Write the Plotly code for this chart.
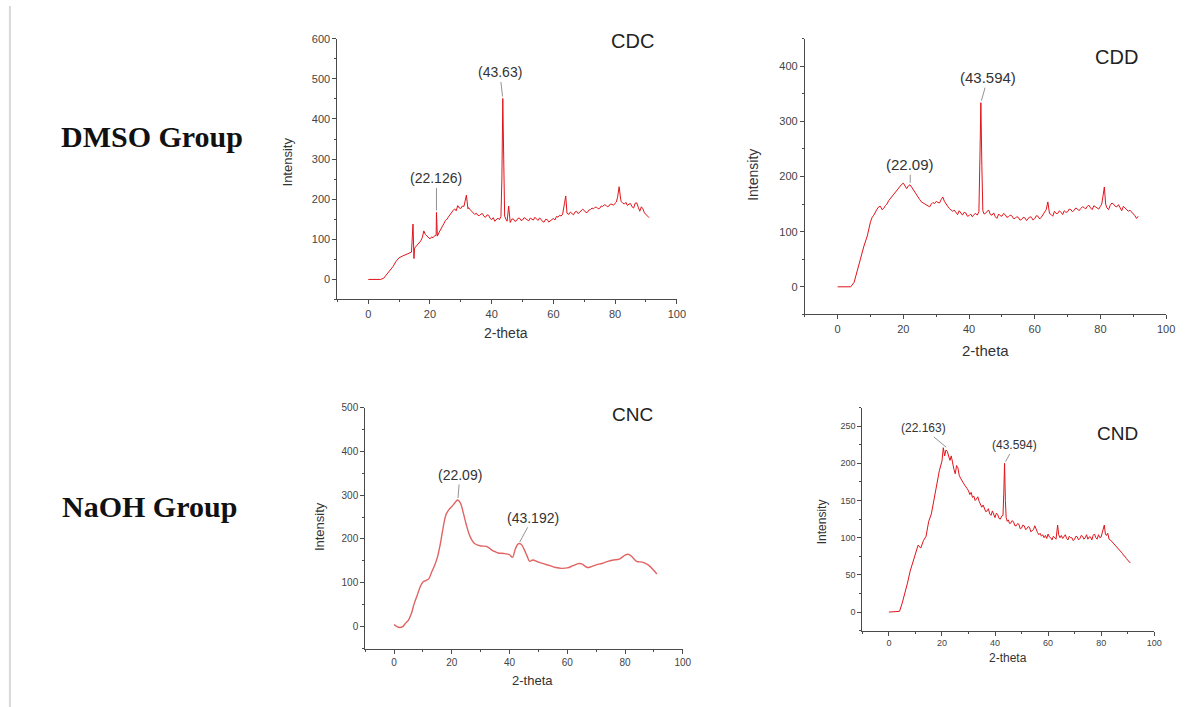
import plotly.graph_objects as go

W, H = 1186, 707

# ---------------- data ----------------
cdc_x = [0, 1, 2, 3, 4, 5, 6, 7, 8, 9,
         10, 11, 12, 13, 14, 14.5, 14.8, 15, 16, 17,
         17.5, 18, 18.5, 19, 20, 20.5, 21, 21.5, 22, 22.1,
         22.4, 23, 23.5, 24, 24.5, 25, 25.5, 26, 26.5, 27,
         27.5, 28, 28.5, 29, 29.5, 30, 30.5, 31, 31.8, 32.3,
         32.5, 33, 33.5, 34, 34.5, 35, 35.5, 36, 36.5, 37,
         37.5, 38, 38.5, 39, 39.5, 40, 40.5, 41, 41.5, 42,
         42.5, 43, 43.3, 43.6, 43.9, 44.2, 44.6, 45, 45.5, 46,
         46.5, 47, 47.5, 48, 48.5, 49, 49.5, 50, 50.5, 51,
         51.5, 52, 52.5, 53, 53.5, 54, 54.5, 55, 55.5, 56,
         56.5, 57, 57.5, 58, 58.5, 59, 59.5, 60, 60.5, 61,
         61.5, 62, 62.5, 63, 63.6, 64, 64.4, 65, 65.5, 66,
         66.5, 67, 67.5, 68, 68.5, 69, 69.5, 70, 70.5, 71,
         71.5, 72, 72.5, 73, 73.5, 74, 74.5, 75, 75.5, 76,
         76.5, 77, 77.5, 78, 78.5, 79, 79.5, 80, 80.4, 80.8,
         81.3, 81.8, 82, 82.5, 83, 83.5, 84, 84.5, 85, 85.5,
         86, 86.5, 87, 87.5, 88, 88.5, 89, 89.5, 90, 90.5,
         91]
cdc_y = [0, 0, 0, 0, 0, 3, 12, 22, 32, 45,
         54, 58, 62, 64, 68, 138, 52, 78, 86, 96,
         104, 121, 112, 108, 101, 106, 104, 109, 110, 167,
         108, 118, 124, 133, 139, 147, 150, 156, 162, 169,
         172, 176, 171, 184, 178, 177, 183, 182, 210, 176,
         179, 174, 170, 168, 162, 165, 160, 159, 163, 164,
         157, 155, 161, 160, 152, 149, 154, 145, 150, 153,
         149, 157, 250, 451, 300, 158, 150, 145, 183, 142,
         150, 151, 145, 146, 152, 153, 147, 148, 154, 152,
         148, 146, 153, 151, 148, 155, 150, 147, 153, 150,
         144, 143, 150, 149, 143, 146, 151, 152, 148, 157,
         155, 160, 158, 163, 190, 208, 165, 162, 168, 165,
         161, 168, 170, 164, 168, 170, 175, 172, 167, 167,
         173, 174, 178, 176, 180, 180, 176, 177, 183, 182,
         186, 185, 181, 183, 188, 187, 185, 190, 193, 205,
         231, 200, 194, 190, 188, 192, 184, 188, 189, 181,
         178, 190, 191, 180, 170, 181, 176, 166, 162, 160,
         154]

cdd_x = [0, 1, 2, 3, 4, 5, 6, 7, 8, 9,
         10, 10.5, 11, 11.5, 12, 12.5, 13, 13.5, 14, 14.5,
         15, 15.5, 16, 16.5, 17, 17.5, 18, 18.5, 19, 19.5,
         20, 20.5, 21, 21.5, 22, 22.5, 23, 23.5, 24, 24.5,
         25, 25.5, 26, 26.5, 27, 27.5, 28, 28.5, 29, 29.5,
         30, 30.5, 31, 31.5, 32, 32.5, 33, 33.5, 34, 34.5,
         35, 35.5, 36, 36.5, 37, 37.5, 38, 38.5, 39, 39.5,
         40, 40.5, 41, 41.5, 42, 42.5, 43, 43.3, 43.6, 43.9,
         44.2, 44.6, 45, 45.5, 46, 46.5, 47, 47.5, 48, 48.5,
         49, 49.5, 50, 50.5, 51, 51.5, 52, 52.5, 53, 53.5,
         54, 54.5, 55, 55.5, 56, 56.5, 57, 57.5, 58, 58.5,
         59, 59.5, 60, 60.5, 61, 61.5, 62, 62.5, 63, 63.5,
         64, 64.5, 65, 65.5, 66, 66.5, 67, 67.5, 68, 68.5,
         69, 69.5, 70, 70.5, 71, 71.5, 72, 72.5, 73, 73.5,
         74, 74.5, 75, 75.5, 76, 76.5, 77, 77.5, 78, 78.5,
         79, 79.5, 80, 80.4, 80.8, 81.2, 81.6, 82, 82.5, 83,
         83.5, 84, 84.5, 85, 85.5, 86, 86.5, 87, 87.5, 88,
         88.5, 89, 89.5, 90, 90.5, 91, 91.5]
cdd_y = [0, 0, 0, 0, 0, 8, 28, 52, 74, 92,
         118, 126, 130, 137, 141, 145, 146, 140, 142, 147,
         150, 156, 160, 164, 168, 172, 175, 179, 183, 186,
         188, 183, 178, 183, 185, 181, 176, 171, 166, 162,
         158, 154, 152, 150, 149, 146, 145, 150, 153, 151,
         155, 153, 152, 158, 163, 155, 149, 146, 142, 140,
         137, 139, 134, 131, 138, 133, 130, 135, 134, 128,
         129, 132, 127, 131, 133, 130, 136, 230, 334, 220,
         138, 132, 133, 137, 139, 131, 130, 134, 127, 124,
         132, 129, 128, 133, 131, 126, 127, 130, 129, 124,
         124, 127, 126, 121, 122, 126, 125, 120, 123, 127,
         126, 121, 124, 129, 128, 123, 126, 130, 134, 140,
         154, 133, 131, 128, 137, 133, 133, 138, 135, 131,
         138, 135, 136, 141, 140, 136, 139, 143, 141, 138,
         142, 145, 144, 141, 146, 148, 143, 140, 147, 145,
         144, 141, 146, 150, 165, 181, 150, 143, 140, 148,
         152, 150, 146, 145, 149, 142, 138, 146, 143, 141,
         137, 139, 136, 133, 129, 124, 128]

cnc_x = [0, 1, 2, 3, 4, 5, 6, 7, 8, 9,
         10, 11, 12, 13, 14, 15, 16, 17, 18, 19,
         20, 21, 22, 23, 24, 25, 26, 27, 28, 29,
         30, 32, 33, 34, 35, 36, 38, 40, 41, 42,
         43, 44, 45, 46, 47, 48, 50, 52, 54, 56,
         58, 60, 62, 64, 65, 67, 68, 70, 72, 74,
         76, 78, 80, 81, 82, 84, 86, 88, 90, 91]
cnc_y = [5, 0, -2, 0, 8, 15, 30, 53, 71, 90,
         102, 105, 109, 124, 139, 158, 188, 226, 256, 267,
         274, 282, 289, 282, 259, 233, 211, 197, 189, 186,
         184, 183, 179, 174, 171, 168, 167, 164, 158, 177,
         189, 188, 177, 162, 149, 152, 147, 143, 139, 135,
         133, 134, 139, 144, 143, 135, 136, 141, 144, 149,
         152, 154, 163, 165, 162, 149, 147, 141, 128, 120]

cnd_x = [0, 1, 2, 3, 4, 5, 6, 7, 8, 9,
         10, 11, 12, 13, 14, 15, 16, 17, 18, 19,
         20, 20.5, 21, 21.5, 22, 22.5, 23, 23.5, 24, 24.5,
         25, 25.5, 26, 26.5, 27, 27.5, 28, 28.5, 29, 29.5,
         30, 30.5, 31, 31.5, 32, 32.5, 33, 33.5, 34, 34.5,
         35, 35.5, 36, 36.5, 37, 37.5, 38, 38.5, 39, 39.5,
         40, 40.5, 41, 41.5, 42, 42.5, 43, 43.3, 43.6, 43.9,
         44.2, 44.6, 45, 45.5, 46, 46.5, 47, 47.5, 48, 48.5,
         49, 49.5, 50, 50.5, 51, 51.5, 52, 52.5, 53, 53.5,
         54, 54.5, 55, 55.5, 56, 56.5, 57, 57.5, 58, 58.5,
         59, 59.5, 60, 60.5, 61, 61.5, 62, 62.5, 63, 63.6,
         64, 64.5, 65, 65.5, 66, 66.5, 67, 67.5, 68, 68.5,
         69, 69.5, 70, 70.5, 71, 71.5, 72, 72.5, 73, 73.5,
         74, 74.5, 75, 75.5, 76, 76.5, 77, 77.5, 78, 78.5,
         79, 79.5, 80, 80.4, 80.8, 81.2, 81.6, 82, 82.5, 83,
         83.5, 84, 84.5, 85, 85.5, 86, 86.5, 87, 87.5, 88,
         88.5, 89, 89.5, 90, 90.5, 91]
cnd_y = [0, 0, 0, 0, 1, 12, 25, 39, 55, 67,
         80, 90, 86, 96, 102, 122, 132, 152, 172, 190,
         203, 221, 210, 218, 216, 208, 204, 210, 199, 192,
         186, 197, 194, 184, 180, 176, 174, 171, 169, 166,
         163, 158, 161, 154, 156, 150, 152, 155, 149, 145,
         141, 144, 140, 135, 136, 139, 132, 130, 136, 131,
         127, 133, 131, 126, 125, 129, 130, 160, 200, 150,
         127, 122, 124, 119, 120, 123, 121, 116, 116, 119,
         118, 112, 113, 117, 116, 111, 112, 115, 114, 108,
         109, 111, 116, 110, 107, 104, 106, 102, 104, 100,
         103, 99, 105, 101, 100, 97, 102, 100, 98, 117,
         104, 100, 103, 99, 101, 104, 99, 97, 102, 100,
         100, 96, 98, 102, 101, 97, 99, 103, 102, 98,
         100, 104, 98, 101, 101, 97, 103, 105, 100, 98,
         104, 100, 101, 106, 112, 117, 105, 103, 106, 98,
         97, 95, 93, 91, 89, 87, 85, 84, 81, 79,
         76, 75, 72, 70, 68, 66]

panel_names = ["CDC", "CDD", "CNC", "CND"]
group_labels = ["DMSO Group", "NaOH Group"]
x_title = "2-theta"
y_title = "Intensity"

# peak labels: (panel index, x, y, text)
peak_labels = [
    (0, 22.1, 167, "(22.126)"),
    (0, 43.6, 451, "(43.63)"),
    (1, 22.09, 185, "(22.09)"),
    (1, 43.6, 334, "(43.594)"),
    (2, 22.09, 289, "(22.09)"),
    (2, 43.192, 189, "(43.192)"),
    (3, 22.163, 220, "(22.163)"),
    (3, 43.6, 200, "(43.594)"),
]

# ---------------- layout (pixel boxes) ----------------
boxes = [  # left, right, top, bottom in px
    (340, 682, 33, 296),
    (811, 1175, 33, 311),
    (368, 688, 405, 648),
    (869, 1163, 405, 630),
]
y_ranges = [[-50, 600], [-50, 450], [-50, 500], [-25, 275]]
y_dticks = [100, 100, 100, 50]
tick_sizes = [11, 11, 10, 9]
peak_sizes = [14, 15, 14, 12]
title_sizes = [20, 20, 19, 19]
ytitle_sizes = [13, 14, 13, 12]
xtitle_sizes = [14, 15, 13, 12]
line_colors = ["#e0141a", "#e0141a", "#e06464", "#e0141a"]
line_widths = [1, 1, 1.4, 1]
series = [(cdc_x, cdc_y), (cdd_x, cdd_y), (cnc_x, cnc_y), (cnd_x, cnd_y)]
for xs, ys in series:
    assert len(xs) == len(ys), (len(xs), len(ys))

peak_offsets = [(0, -34), (-3, -26), (0, -20), (7, -25), (2, -25), (14, -26), (-24, -20), (10, -18)]
panel_title_pos = [(637, 35), (1125, 51), (637, 412), (1126, 431)]
ytitle_pos = [(290, 157), (758, 170), (322, 525), (828, 520)]
xtitle_pos = [(510, 330), (993, 347), (537, 680), (1016, 658)]

fig = go.Figure()
axis_col = "#4a4a4a"
font_fam = "Liberation Sans, Arial, sans-serif"

for i, (xs, ys) in enumerate(series):
    suffix = "" if i == 0 else str(i + 1)
    fig.add_trace(go.Scatter(
        x=xs, y=ys, mode="lines",
        line=dict(color=line_colors[i], width=line_widths[i],
                  shape="spline" if i == 2 else "linear"),
        xaxis="x" + suffix, yaxis="y" + suffix, showlegend=False,
        hoverinfo="skip"))
    l, r, t, b = boxes[i]
    common = dict(showline=True, linecolor=axis_col, linewidth=1,
                  ticks="outside", ticklen=4, tickcolor=axis_col, showgrid=False,
                  zeroline=False,
                  tickfont=dict(size=tick_sizes[i], color="#444", family=font_fam))
    xa = dict(domain=[l / W, r / W], range=[-10, 100], dtick=20, tick0=0,
              anchor="y" + suffix,
              minor=dict(ticks="outside", ticklen=2, dtick=10, tick0=0, tickcolor=axis_col),
              **common)
    ya = dict(domain=[1 - b / H, 1 - t / H], range=y_ranges[i], dtick=y_dticks[i], tick0=0,
              anchor="x" + suffix,
              minor=dict(ticks="outside", ticklen=2, dtick=y_dticks[i] / 2, tick0=0,
                         tickcolor=axis_col),
              **common)
    fig.update_layout(**{"xaxis" + suffix: xa, "yaxis" + suffix: ya})

annotations = []
for k, (pi, px, py, txt) in enumerate(peak_labels):
    suffix = "" if pi == 0 else str(pi + 1)
    ax, ay = peak_offsets[k]
    annotations.append(dict(
        x=px, y=py, xref="x" + suffix, yref="y" + suffix, text=txt,
        showarrow=True, arrowhead=0, arrowwidth=0.8, arrowcolor="#777",
        ax=ax, ay=ay, standoff=2,
        font=dict(size=peak_sizes[pi], color="#333", family=font_fam)))


def paper_text(cx, cy, text, size, color="#333", family=font_fam, angle=0):
    return dict(x=cx / W, y=1 - cy / H, xref="paper", yref="paper",
                xanchor="center", yanchor="middle", text=text, showarrow=False,
                textangle=angle, font=dict(size=size, color=color, family=family))


for i in range(4):
    annotations.append(paper_text(*panel_title_pos[i], panel_names[i], title_sizes[i], "#222"))
    annotations.append(paper_text(*ytitle_pos[i], y_title, ytitle_sizes[i], angle=-90))
    annotations.append(paper_text(*xtitle_pos[i], x_title, xtitle_sizes[i]))

group_pos = [(153, 132), (151, 505)]
for g, pos in zip(group_labels, group_pos):
    annotations.append(paper_text(*pos, "<b>" + g + "</b>", 30, "#111",
                                  "Liberation Serif, Times New Roman, serif"))

fig.update_layout(
    width=W, height=H, margin=dict(l=0, r=0, t=0, b=0),
    paper_bgcolor="white", plot_bgcolor="white",
    annotations=annotations,
    shapes=[dict(type="line", xref="paper", yref="paper", x0=10 / W, x1=10 / W,
                 y0=0, y1=1, line=dict(color="#d8d8d8", width=2))],
)

page_fix = (
    "document.documentElement.style.margin='0';"
    "document.documentElement.style.padding='0';"
    "document.documentElement.style.overflow='hidden';"
    "document.body.style.margin='0';"
    "document.body.style.padding='0';"
    "document.body.style.overflow='hidden';"
    "var gd=document.getElementById('{plot_id}');"
    "if(gd){gd.style.position='fixed';gd.style.left='0px';gd.style.top='0px';}"
)

fig.write_html("out.html", config={"displayModeBar": False}, post_script=page_fix)
